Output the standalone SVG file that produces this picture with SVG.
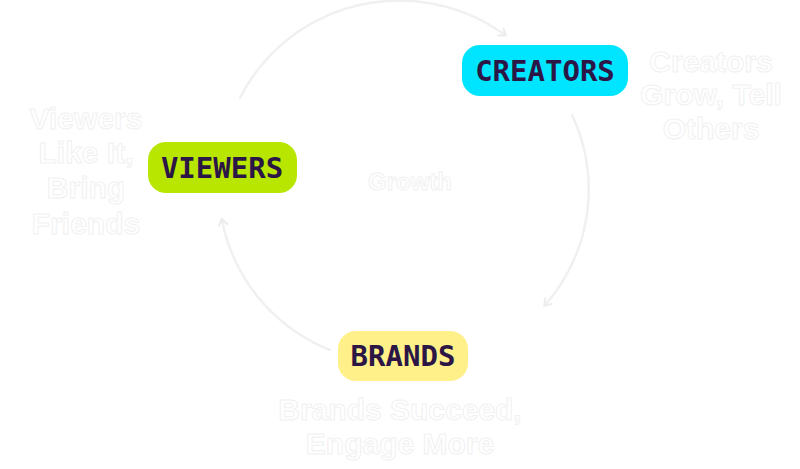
<svg xmlns="http://www.w3.org/2000/svg" width="800" height="469" viewBox="0 0 800 469">
<style>
.pill-text{font-family:"DejaVu Sans Mono","Liberation Mono",monospace;font-weight:bold;font-size:29px;fill:#2B1646;text-anchor:middle}
.note{font-family:"Liberation Sans",Arial,sans-serif;font-weight:bold;font-size:30px;fill:#ffffff;stroke:#f1f1f1;stroke-width:1;text-anchor:middle}
.conn{fill:none;stroke:#f0f0f0;stroke-width:2.5;stroke-dasharray:14 2 3 2;stroke-linecap:round}
</style>
<defs>
<marker id="ah" markerWidth="10" markerHeight="10" refX="6" refY="5" orient="auto" markerUnits="userSpaceOnUse">
<path d="M0,0 L7,5 L0,10" fill="none" stroke="#ececec" stroke-width="2"/>
</marker>
</defs>
<rect width="800" height="469" fill="#ffffff"/>
<g id="connectors">
<path class="conn" d="M240,98 A178,176 0 0 1 505,35" marker-end="url(#ah)"/>
<path class="conn" d="M572,115 A178,176 0 0 1 545,305" marker-end="url(#ah)"/>
<path class="conn" d="M330,350 A178,176 0 0 1 222,220" marker-end="url(#ah)"/>
</g>
<g id="center">
<text class="note" x="410" y="190" style="font-size:24px">Growth</text>
</g>
<g id="creators">
<rect x="462" y="45" width="166" height="51" rx="18" fill="#00E5FF"/>
<text class="pill-text" x="545" y="81">CREATORS</text>
</g>
<g id="viewers">
<rect x="148" y="142" width="149" height="51" rx="18" fill="#B8E600"/>
<text class="pill-text" x="222" y="178">VIEWERS</text>
</g>
<g id="brands">
<rect x="338" y="331" width="130" height="50" rx="18" fill="#FFF08A"/>
<text class="pill-text" x="403" y="366">BRANDS</text>
</g>
<g id="viewers-note">
<text class="note" x="86" y="129">Viewers</text>
<text class="note" x="86" y="163">Like It,</text>
<text class="note" x="86" y="198">Bring</text>
<text class="note" x="86" y="234">Friends</text>
</g>
<g id="creators-note">
<text class="note" x="711" y="72">Creators</text>
<text class="note" x="711" y="105">Grow, Tell</text>
<text class="note" x="711" y="139">Others</text>
</g>
<g id="brands-note">
<text class="note" x="400" y="420">Brands Succeed,</text>
<text class="note" x="400" y="454">Engage More</text>
</g>
</svg>
